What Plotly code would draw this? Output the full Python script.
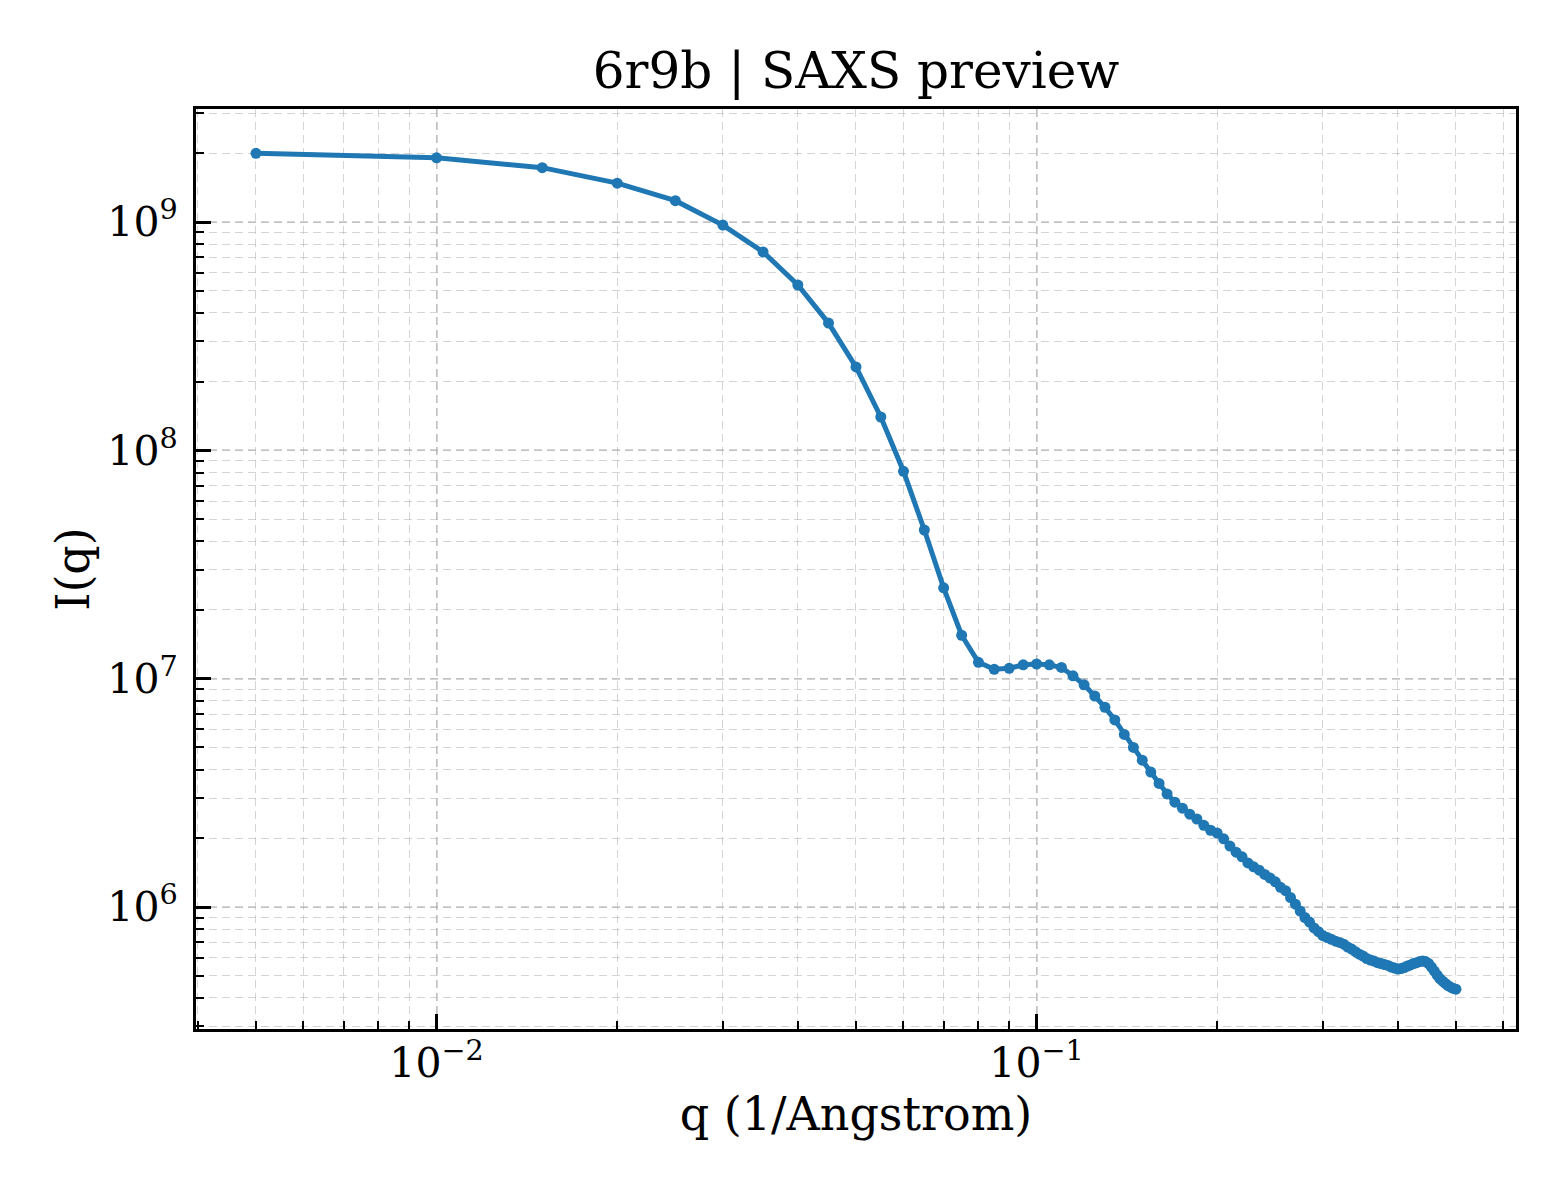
import plotly.graph_objects as go

# q values (1/Angstrom)
q = [0.005, 0.010, 0.015, 0.020, 0.025, 0.030, 0.035, 0.040, 0.045, 0.050,
     0.055, 0.060, 0.065, 0.070, 0.075, 0.080, 0.085, 0.090, 0.095, 0.100,
     0.105, 0.110, 0.115, 0.120, 0.125, 0.130, 0.135, 0.140, 0.145, 0.150,
     0.155, 0.160, 0.165, 0.170, 0.175, 0.180, 0.185, 0.190, 0.195, 0.200,
     0.205, 0.210, 0.215, 0.220, 0.225, 0.230, 0.235, 0.240, 0.245, 0.250,
     0.255, 0.260, 0.265, 0.270, 0.275, 0.280, 0.285, 0.290, 0.295, 0.300,
     0.305, 0.310, 0.315, 0.320, 0.325, 0.330, 0.335, 0.340, 0.345, 0.350,
     0.355, 0.360, 0.365, 0.370, 0.375, 0.380, 0.385, 0.390, 0.395, 0.400,
     0.405, 0.410, 0.415, 0.420, 0.425, 0.430, 0.435, 0.440, 0.445, 0.450,
     0.455, 0.460, 0.465, 0.470, 0.475, 0.480, 0.485, 0.490, 0.495, 0.500]

# Intensity I(q)
intensity = [2.00e9, 1.91e9, 1.73e9, 1.48e9, 1.24e9, 9.7e8, 7.4e8, 5.3e8, 3.61e8, 2.32e8,
             1.40e8, 8.1e7, 4.48e7, 2.50e7, 1.55e7, 1.18e7, 1.10e7, 1.11e7, 1.15e7, 1.16e7,
             1.15e7, 1.12e7, 1.03e7, 9.4e6, 8.4e6, 7.5e6, 6.6e6, 5.7e6, 5.0e6, 4.4e6,
             3.9e6, 3.48e6, 3.13e6, 2.88e6, 2.71e6, 2.55e6, 2.43e6, 2.28e6, 2.17e6, 2.11e6,
             1.99e6, 1.85e6, 1.74e6, 1.66e6, 1.56e6, 1.50e6, 1.45e6, 1.39e6, 1.34e6, 1.29e6,
             1.22e6, 1.18e6, 1.10e6, 1.03e6, 9.6e5, 9.0e5, 8.6e5, 8.1e5, 7.8e5, 7.5e5,
             7.35e5, 7.22e5, 7.09e5, 7.0e5, 6.88e5, 6.68e5, 6.55e5, 6.38e5, 6.22e5, 6.1e5,
             5.95e5, 5.86e5, 5.80e5, 5.71e5, 5.66e5, 5.60e5, 5.55e5, 5.46e5, 5.41e5, 5.35e5,
             5.38e5, 5.43e5, 5.52e5, 5.58e5, 5.66e5, 5.71e5, 5.77e5, 5.80e5, 5.77e5, 5.66e5,
             5.46e5, 5.25e5, 5.04e5, 4.86e5, 4.74e5, 4.63e5, 4.53e5, 4.46e5, 4.40e5, 4.37e5]

x_tickvals = [1e-2, 1e-1]
x_ticktext = ["10<sup>\u22122</sup>", "10<sup>\u22121</sup>"]
y_tickvals = [1e6, 1e7, 1e8, 1e9]
y_ticktext = ["10<sup>6</sup>", "10<sup>7</sup>", "10<sup>8</sup>", "10<sup>9</sup>"]

title_text = "6r9b | SAXS preview"
x_label = "q (1/Angstrom)"
y_label = "I(q)"

FONT = "DejaVu Serif"
GRID = "rgba(176,176,176,0.55)"

fig = go.Figure()
fig.add_trace(go.Scatter(
    x=q, y=intensity, mode="lines+markers",
    line=dict(color="#1f77b4", width=5),
    marker=dict(color="#1f77b4", size=11),
    showlegend=False,
))

axis_common = dict(
    type="log",
    showline=True, linecolor="black", linewidth=3, mirror=True,
    ticks="inside", ticklen=15, tickwidth=2.5, tickcolor="black",
    showgrid=True, gridcolor=GRID, gridwidth=1.5, griddash="8px,5px",
    zeroline=False,
    tickfont=dict(family=FONT, size=41, color="black"),
    minor=dict(ticks="inside", ticklen=8, tickwidth=2, tickcolor="black",
               dtick="D1", showgrid=True, gridcolor=GRID, gridwidth=1.3,
               griddash="8px,5px"),
)

fig.update_xaxes(**axis_common, range=[-2.401, -0.201],
                 tickvals=x_tickvals, ticktext=x_ticktext,
                 ticklabelstandoff=-4,
                 title=dict(text=x_label, font=dict(family=FONT, size=46, color="black"),
                            standoff=10))
fig.update_yaxes(**axis_common, range=[5.466, 9.495],
                 tickvals=y_tickvals, ticktext=y_ticktext,
                 ticklabelstandoff=7,
                 title=dict(text=y_label, font=dict(family=FONT, size=46, color="black"),
                            standoff=4))

fig.update_layout(
    width=1560, height=1200,
    margin=dict(l=188, r=52, t=101, b=179),
    paper_bgcolor="white", plot_bgcolor="white",
    title=dict(text=title_text, x=0.5, xanchor="center", xref="paper",
               y=1 - 62 / 1200, yanchor="middle",
               font=dict(family=FONT, size=50, color="black")),
)

fig.write_html("out.html")
